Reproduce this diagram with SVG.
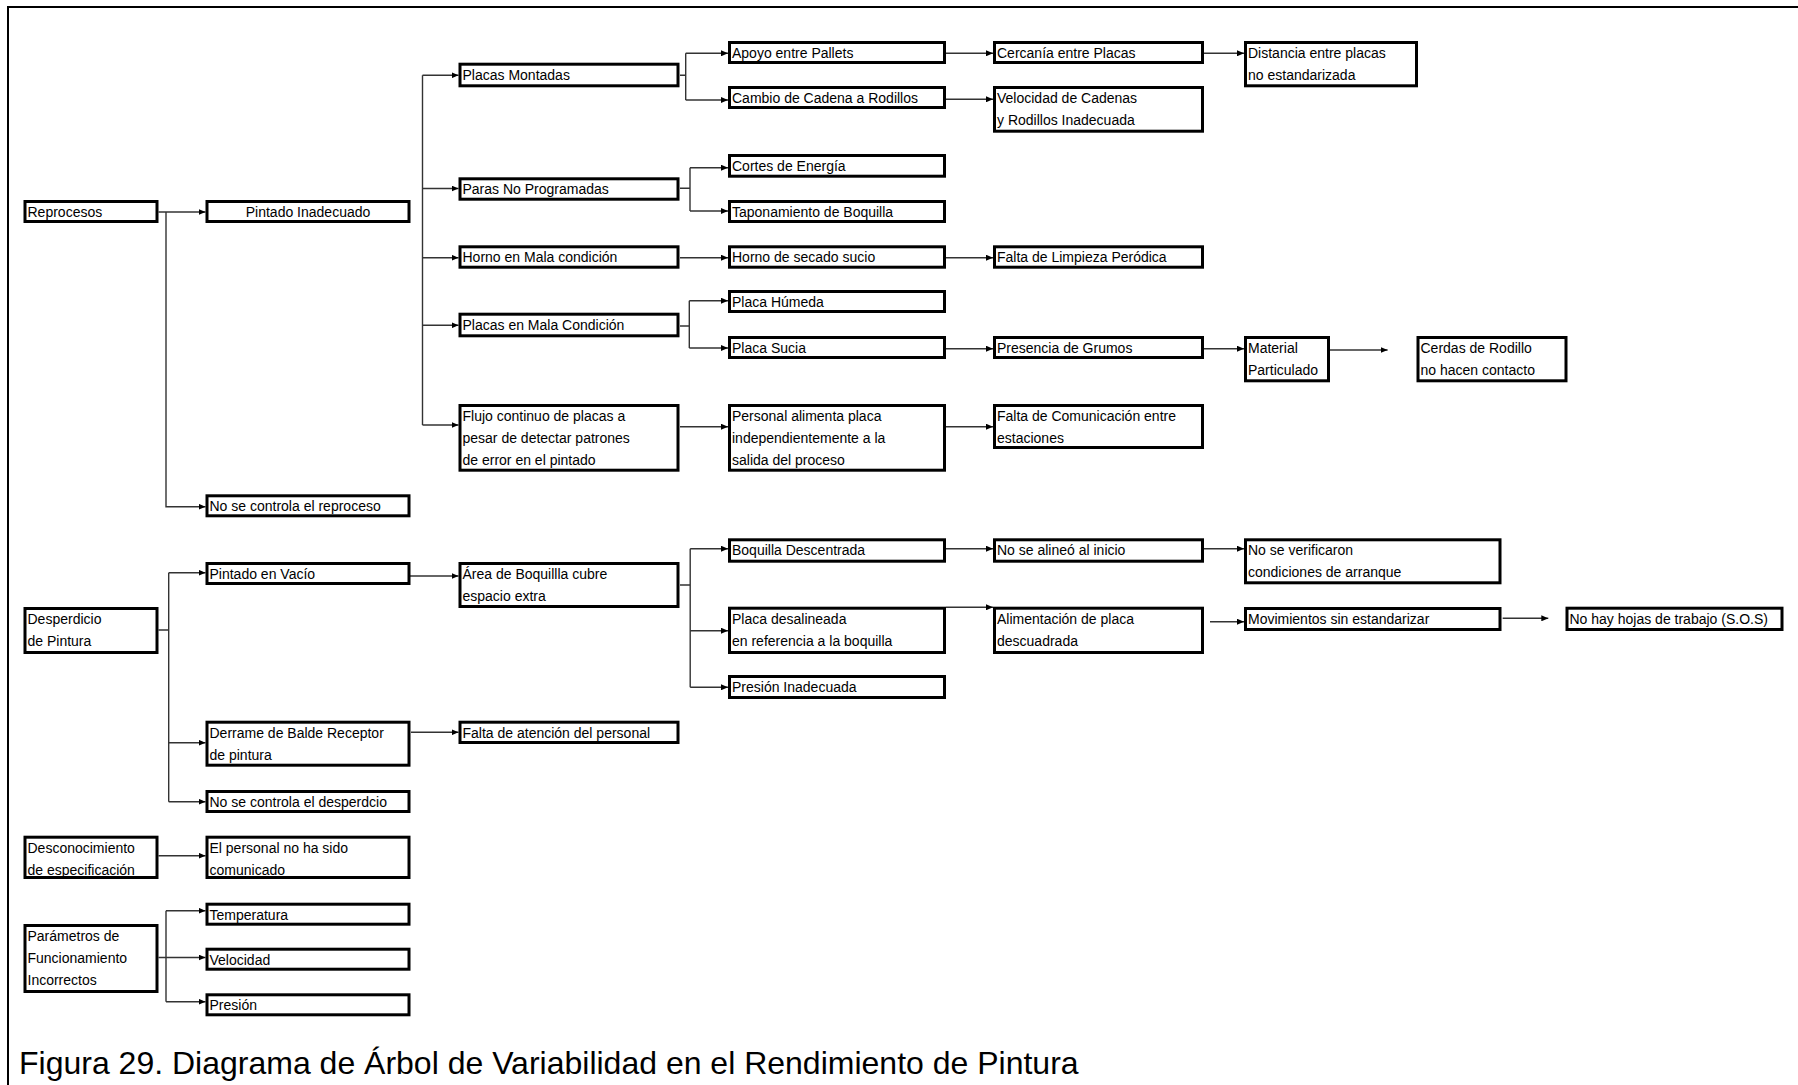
<svg xmlns="http://www.w3.org/2000/svg" width="1798" height="1085" viewBox="0 0 1798 1085">
  <style>
    .box { fill: #ffffff; stroke: #000000; stroke-width: 3; }
    .t { font-family: "Liberation Sans", Arial, sans-serif; font-size: 14px; fill: #000000; }
    .tc { text-anchor: middle; }
    .ln { fill: none; stroke: #333333; stroke-width: 1.4; }
    .cap { font-family: "Liberation Sans", Arial, sans-serif; font-size: 32px; fill: #000000; }
    .frame { fill: none; stroke: #000000; stroke-width: 2; }
  </style>
  <defs>
    <marker id="arr" markerUnits="userSpaceOnUse" markerWidth="7" markerHeight="6" refX="7" refY="3" orient="auto">
      <path d="M0,0 L7,3 L0,6 Z" fill="#000000"/>
    </marker>
  </defs>

  <rect width="1798" height="1085" fill="#ffffff"/>
  <path class="frame" d="M8,1085 V7 H1798"/>

  <!-- connectors -->
  <g id="connectors">
    <!-- Reprocesos -->
    <path class="ln" d="M158.5,212 H205.5" marker-end="url(#arr)"/>
    <path class="ln" d="M166,212 V506.7 H205.5" marker-end="url(#arr)"/>
    <!-- trunk of the five causes of Pintado Inadecuado -->
    <path class="ln" d="M422.5,75.3 V425"/>
    <path class="ln" d="M422.5,75.3 H458.5" marker-end="url(#arr)"/>
    <path class="ln" d="M422.5,188.5 H458.5" marker-end="url(#arr)"/>
    <path class="ln" d="M422.5,257.7 H458.5" marker-end="url(#arr)"/>
    <path class="ln" d="M422.5,325.3 H458.5" marker-end="url(#arr)"/>
    <path class="ln" d="M422.5,425 H458.5" marker-end="url(#arr)"/>
    <!-- Placas Montadas -->
    <path class="ln" d="M680,75.3 H685.7 M685.7,53.3 V100"/>
    <path class="ln" d="M685.7,53.3 H728" marker-end="url(#arr)"/>
    <path class="ln" d="M685.7,100 H728" marker-end="url(#arr)"/>
    <path class="ln" d="M946,53.3 H993" marker-end="url(#arr)"/>
    <path class="ln" d="M946,99.3 H993" marker-end="url(#arr)"/>
    <path class="ln" d="M1204,53.3 H1244" marker-end="url(#arr)"/>
    <!-- Paras No Programadas -->
    <path class="ln" d="M680,188.3 H690 M690,167.7 V211"/>
    <path class="ln" d="M690,167.7 H728" marker-end="url(#arr)"/>
    <path class="ln" d="M690,211 H728" marker-end="url(#arr)"/>
    <!-- Horno -->
    <path class="ln" d="M680,257.7 H728" marker-end="url(#arr)"/>
    <path class="ln" d="M946,257.7 H993" marker-end="url(#arr)"/>
    <!-- Placas en Mala Condicion -->
    <path class="ln" d="M680,326 H689.3 M689.3,300.7 V348"/>
    <path class="ln" d="M689.3,300.7 H728" marker-end="url(#arr)"/>
    <path class="ln" d="M689.3,348 H728" marker-end="url(#arr)"/>
    <path class="ln" d="M946,348.7 H993" marker-end="url(#arr)"/>
    <path class="ln" d="M1204,348.7 H1244" marker-end="url(#arr)"/>
    <path class="ln" d="M1330,350 H1387.6" marker-end="url(#arr)"/>
    <!-- Flujo continuo -->
    <path class="ln" d="M680,426.7 H728" marker-end="url(#arr)"/>
    <path class="ln" d="M946,426.7 H993" marker-end="url(#arr)"/>
    <!-- Desperdicio de Pintura -->
    <path class="ln" d="M158.5,630 H168.7 M168.7,572.7 V801.7"/>
    <path class="ln" d="M168.7,572.7 H205.5" marker-end="url(#arr)"/>
    <path class="ln" d="M168.7,742.7 H205.5" marker-end="url(#arr)"/>
    <path class="ln" d="M168.7,801.7 H205.5" marker-end="url(#arr)"/>
    <path class="ln" d="M403,576 H458.5" marker-end="url(#arr)"/>
    <!-- Area de Boquilla -->
    <path class="ln" d="M680,585 H690.2 M690.2,548.7 V687.3"/>
    <path class="ln" d="M690.2,548.7 H728" marker-end="url(#arr)"/>
    <path class="ln" d="M690.2,630.7 H728" marker-end="url(#arr)"/>
    <path class="ln" d="M690.2,687.3 H728" marker-end="url(#arr)"/>
    <path class="ln" d="M946,548.7 H993" marker-end="url(#arr)"/>
    <path class="ln" d="M946,607.3 H993" marker-end="url(#arr)"/>
    <path class="ln" d="M1204,548.7 H1244" marker-end="url(#arr)"/>
    <path class="ln" d="M1210,621.7 H1244" marker-end="url(#arr)"/>
    <path class="ln" d="M1502.7,618.3 H1548.3" marker-end="url(#arr)"/>
    <!-- Derrame -->
    <path class="ln" d="M411,732.3 H458.5" marker-end="url(#arr)"/>
    <!-- Desconocimiento -->
    <path class="ln" d="M158.5,855.7 H205.5" marker-end="url(#arr)"/>
    <!-- Parametros -->
    <path class="ln" d="M158.5,957.5 H166 M166,910.7 V1001.7"/>
    <path class="ln" d="M166,910.7 H205.5" marker-end="url(#arr)"/>
    <path class="ln" d="M166,957.5 H205.5" marker-end="url(#arr)"/>
    <path class="ln" d="M166,1001.7 H205.5" marker-end="url(#arr)"/>
  </g>

  <!-- column 0 -->
  <g id="n-reprocesos"><rect class="box" x="25" y="201.5" width="132" height="20"/><text class="t" x="27.5" y="217">Reprocesos</text></g>
  <g id="n-desperdicio"><rect class="box" x="25" y="608.5" width="132" height="44"/><text class="t" x="27.5" y="624">Desperdicio</text><text class="t" x="27.5" y="646">de Pintura</text></g>
  <g id="n-desconocimiento"><rect class="box" x="25" y="837.2" width="132" height="40.3"/><text class="t" x="27.5" y="852.7">Desconocimiento</text><text class="t" x="27.5" y="874.7">de especificación</text></g>
  <g id="n-parametros"><rect class="box" x="25" y="925.5" width="132" height="66"/><text class="t" x="27.5" y="941">Parámetros de</text><text class="t" x="27.5" y="963">Funcionamiento</text><text class="t" x="27.5" y="985">Incorrectos</text></g>

  <!-- column 1 -->
  <g id="n-pintado-inadecuado"><rect class="box" x="207" y="201.5" width="202" height="20"/><text class="t tc" x="308" y="217">Pintado Inadecuado</text></g>
  <g id="n-no-controla-reproceso"><rect class="box" x="207" y="495.8" width="202" height="20"/><text class="t" x="209.5" y="511.3">No se controla el reproceso</text></g>
  <g id="n-pintado-vacio"><rect class="box" x="207" y="563.5" width="202" height="20"/><text class="t" x="209.5" y="579">Pintado en Vacío</text></g>
  <g id="n-derrame"><rect class="box" x="207" y="722.2" width="202" height="43"/><text class="t" x="209.5" y="737.7">Derrame de Balde Receptor</text><text class="t" x="209.5" y="759.7">de pintura</text></g>
  <g id="n-no-controla-desperdicio"><rect class="box" x="207" y="791.5" width="202" height="20"/><text class="t" x="209.5" y="807">No se controla el desperdcio</text></g>
  <g id="n-personal-no-comunicado"><rect class="box" x="207" y="837.2" width="202" height="40.3"/><text class="t" x="209.5" y="852.7">El personal no ha sido</text><text class="t" x="209.5" y="874.7">comunicado</text></g>
  <g id="n-temperatura"><rect class="box" x="207" y="904.2" width="202" height="20"/><text class="t" x="209.5" y="919.7">Temperatura</text></g>
  <g id="n-velocidad"><rect class="box" x="207" y="949.2" width="202" height="20"/><text class="t" x="209.5" y="964.7">Velocidad</text></g>
  <g id="n-presion"><rect class="box" x="207" y="994.8" width="202" height="20"/><text class="t" x="209.5" y="1010.3">Presión</text></g>

  <!-- column 2 -->
  <g id="n-placas-montadas"><rect class="box" x="460" y="64.2" width="218" height="21.6"/><text class="t" x="462.5" y="79.7">Placas Montadas</text></g>
  <g id="n-paras"><rect class="box" x="460" y="178.8" width="218" height="20.4"/><text class="t" x="462.5" y="194.3">Paras No Programadas</text></g>
  <g id="n-horno-mala"><rect class="box" x="460" y="246.8" width="218" height="20.4"/><text class="t" x="462.5" y="262.3">Horno en Mala condición</text></g>
  <g id="n-placas-mala"><rect class="box" x="460" y="314.2" width="218" height="21.6"/><text class="t" x="462.5" y="329.7">Placas en Mala Condición</text></g>
  <g id="n-flujo"><rect class="box" x="460" y="405.5" width="218" height="64.7"/><text class="t" x="462.5" y="421">Flujo continuo de placas a</text><text class="t" x="462.5" y="443">pesar de detectar patrones</text><text class="t" x="462.5" y="465">de error en el pintado</text></g>
  <g id="n-area-boquilla"><rect class="box" x="460" y="563.5" width="218" height="43"/><text class="t" x="462.5" y="579">Área de Boquillla cubre</text><text class="t" x="462.5" y="601">espacio extra</text></g>
  <g id="n-falta-atencion"><rect class="box" x="460" y="722.2" width="218" height="20.3"/><text class="t" x="462.5" y="737.7">Falta de atención del personal</text></g>

  <!-- column 3 -->
  <g id="n-apoyo"><rect class="box" x="729.5" y="42.5" width="215" height="20"/><text class="t" x="732" y="58">Apoyo entre Pallets</text></g>
  <g id="n-cambio"><rect class="box" x="729.5" y="87.5" width="215" height="20"/><text class="t" x="732" y="103">Cambio de Cadena a Rodillos</text></g>
  <g id="n-cortes"><rect class="box" x="729.5" y="155.5" width="215" height="20.7"/><text class="t" x="732" y="171">Cortes de Energía</text></g>
  <g id="n-taponamiento"><rect class="box" x="729.5" y="201.5" width="215" height="20"/><text class="t" x="732" y="217">Taponamiento de Boquilla</text></g>
  <g id="n-horno-secado"><rect class="box" x="729.5" y="246.8" width="215" height="20.4"/><text class="t" x="732" y="262.3">Horno de secado sucio</text></g>
  <g id="n-placa-humeda"><rect class="box" x="729.5" y="291.5" width="215" height="20"/><text class="t" x="732" y="307">Placa Húmeda</text></g>
  <g id="n-placa-sucia"><rect class="box" x="729.5" y="337.5" width="215" height="20"/><text class="t" x="732" y="353">Placa Sucia</text></g>
  <g id="n-personal-alimenta"><rect class="box" x="729.5" y="405.5" width="215" height="64.7"/><text class="t" x="732" y="421">Personal alimenta placa</text><text class="t" x="732" y="443">independientemente a la</text><text class="t" x="732" y="465">salida del proceso</text></g>
  <g id="n-boquilla-descentrada"><rect class="box" x="729.5" y="539.8" width="215" height="21.4"/><text class="t" x="732" y="555.3">Boquilla Descentrada</text></g>
  <g id="n-placa-desalineada"><rect class="box" x="729.5" y="608.2" width="215" height="44.3"/><text class="t" x="732" y="623.7">Placa desalineada</text><text class="t" x="732" y="645.7">en referencia a la boquilla</text></g>
  <g id="n-presion-inadecuada"><rect class="box" x="729.5" y="676.5" width="215" height="21"/><text class="t" x="732" y="692">Presión Inadecuada</text></g>

  <!-- column 4 -->
  <g id="n-cercania"><rect class="box" x="994.5" y="42.5" width="208" height="20"/><text class="t" x="997" y="58">Cercanía entre Placas</text></g>
  <g id="n-velocidad-cadenas"><rect class="box" x="994.5" y="87.5" width="208" height="43.7"/><text class="t" x="997" y="103">Velocidad de Cadenas</text><text class="t" x="997" y="125">y Rodillos Inadecuada</text></g>
  <g id="n-falta-limpieza"><rect class="box" x="994.5" y="246.8" width="208" height="20.4"/><text class="t" x="997" y="262.3">Falta de Limpieza Peródica</text></g>
  <g id="n-grumos"><rect class="box" x="994.5" y="337.5" width="208" height="20"/><text class="t" x="997" y="353">Presencia de Grumos</text></g>
  <g id="n-falta-comunicacion"><rect class="box" x="994.5" y="405.5" width="208" height="42"/><text class="t" x="997" y="421">Falta de Comunicación entre</text><text class="t" x="997" y="443">estaciones</text></g>
  <g id="n-no-alineo"><rect class="box" x="994.5" y="539.8" width="208" height="21.4"/><text class="t" x="997" y="555.3">No se alineó al inicio</text></g>
  <g id="n-alimentacion"><rect class="box" x="994.5" y="608.2" width="208" height="44.3"/><text class="t" x="997" y="623.7">Alimentación de placa</text><text class="t" x="997" y="645.7">descuadrada</text></g>

  <!-- column 5 -->
  <g id="n-distancia"><rect class="box" x="1245.5" y="42.5" width="171" height="43.3"/><text class="t" x="1248" y="58">Distancia entre placas</text><text class="t" x="1248" y="80">no estandarizada</text></g>
  <g id="n-material"><rect class="box" x="1245.5" y="337.5" width="83" height="43.3"/><text class="t" x="1248" y="353">Material</text><text class="t" x="1248" y="375">Particulado</text></g>
  <g id="n-no-verificaron"><rect class="box" x="1245.5" y="539.8" width="254.5" height="43"/><text class="t" x="1248" y="555.3">No se verificaron</text><text class="t" x="1248" y="577.3">condiciones de arranque</text></g>
  <g id="n-movimientos"><rect class="box" x="1245.5" y="608.5" width="254.5" height="21"/><text class="t" x="1248" y="624">Movimientos sin estandarizar</text></g>

  <!-- column 6 -->
  <g id="n-cerdas"><rect class="box" x="1418" y="337.5" width="148" height="43.3"/><text class="t" x="1420.5" y="353">Cerdas de Rodillo</text><text class="t" x="1420.5" y="375">no hacen contacto</text></g>
  <g id="n-hojas-trabajo"><rect class="box" x="1567" y="608.2" width="215" height="21.3"/><text class="t" x="1569.5" y="623.7">No hay hojas de trabajo (S.O.S)</text></g>

  <text class="cap" x="19" y="1074">Figura 29. Diagrama de Árbol de Variabilidad en el Rendimiento de Pintura</text>
</svg>
